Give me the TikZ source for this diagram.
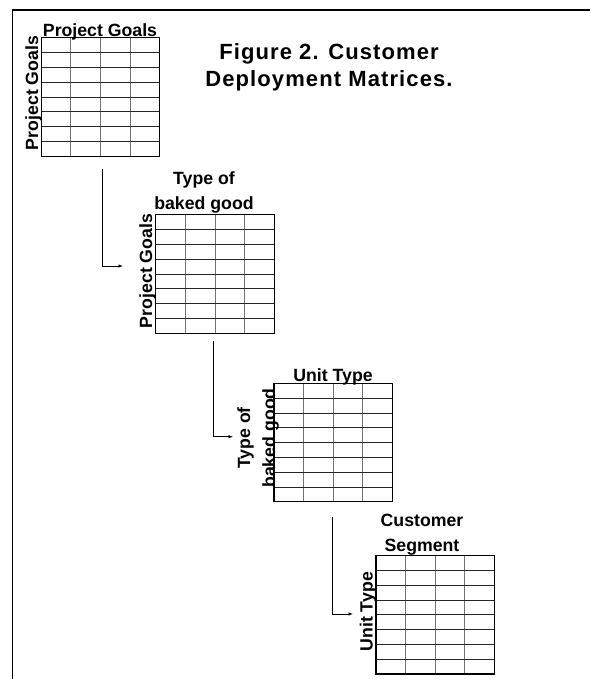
\documentclass[tikz,border=0pt]{standalone}
\usepackage{fontspec}
\setmainfont{Liberation Sans}
\newfontfamily\titlefont[LetterSpace=5]{Liberation Sans}
\usetikzlibrary{calc}
\usetikzlibrary{arrows.meta}

\begin{document}
\begin{tikzpicture}[x=1pt, y=1pt,
  colline/.style={line width=1pt, black!55},
  rowline/.style={line width=0.7pt, black!85},
  matbox/.style={draw, line width=1.3pt, minimum width=118.5pt, minimum height=118.5pt, inner sep=0pt,
    path picture={
      \foreach \i in {1,2,3}
        \draw[colline] ($(path picture bounding box.south west)!\i/4!(path picture bounding box.south east)$) -- ++(0,118.5);
      \foreach \j in {1,...,7}
        \draw[rowline] ($(path picture bounding box.south west)!\j/8!(path picture bounding box.north west)$) -- ++(118.5,0);
    }},
  axis/.style={font=\bfseries\fontsize{17.7}{25}\selectfont, inner sep=0pt, align=center},
  flow/.style={line width=0.8pt, -{Latex[length=4.5pt, width=3.5pt]}}]

\useasboundingbox (0, 0) rectangle (590, 679);

% frame, cut off at right and bottom
\draw[line width=1.4pt] (590, 669) -- (12.5, 669) -- (12.5, 0);

\node[font=\titlefont\bfseries\fontsize{22}{26.7}\selectfont, align=center, inner sep=0pt] (title) at (329, 612) {Figure 2. Customer\\Deployment Matrices.};

% the four matrices
\node[matbox] (goals) at (100.5, 582) {};
\node[matbox] (baked) at (215, 405) {};
\node[matbox] (unit) at (333.3, 236.5) {};
\node[matbox] (segment) at (435.2, 64.2) {};

\node[axis, anchor=base] (goalstop) at (100, 642) {Project Goals};
\node[axis, anchor=base, rotate=90] (goalsside) at (38, 586) {Project Goals};

\node[axis, anchor=base] (bakedtop) at (204, 469) {Type of\\baked good};
\node[axis, anchor=base, rotate=90] (bakedside) at (152, 408) {Project Goals};

\node[axis, anchor=base] (unittop) at (333, 297.3) {Unit Type};
\node[axis, anchor=base, rotate=90] (unitside) at (275, 241) {Type of\\baked good};

\node[axis, anchor=base] (segmenttop) at (422, 127.3) {Customer\\Segment};
\node[axis, anchor=base, rotate=90] (segmentside) at (372.7, 67.3) {Unit Type};

% links
\coordinate (s1) at (102, 510);
\coordinate (e1) at (123, 413);
\coordinate (s2) at (213, 338);
\coordinate (e2) at (233, 242.3);
\coordinate (s3) at (332, 162);
\coordinate (e3) at (353, 65);

\draw[flow] (s1) |- (e1);
\draw[flow] (s2) |- (e2);
\draw[flow] (s3) |- (e3);

\end{tikzpicture}
\end{document}
